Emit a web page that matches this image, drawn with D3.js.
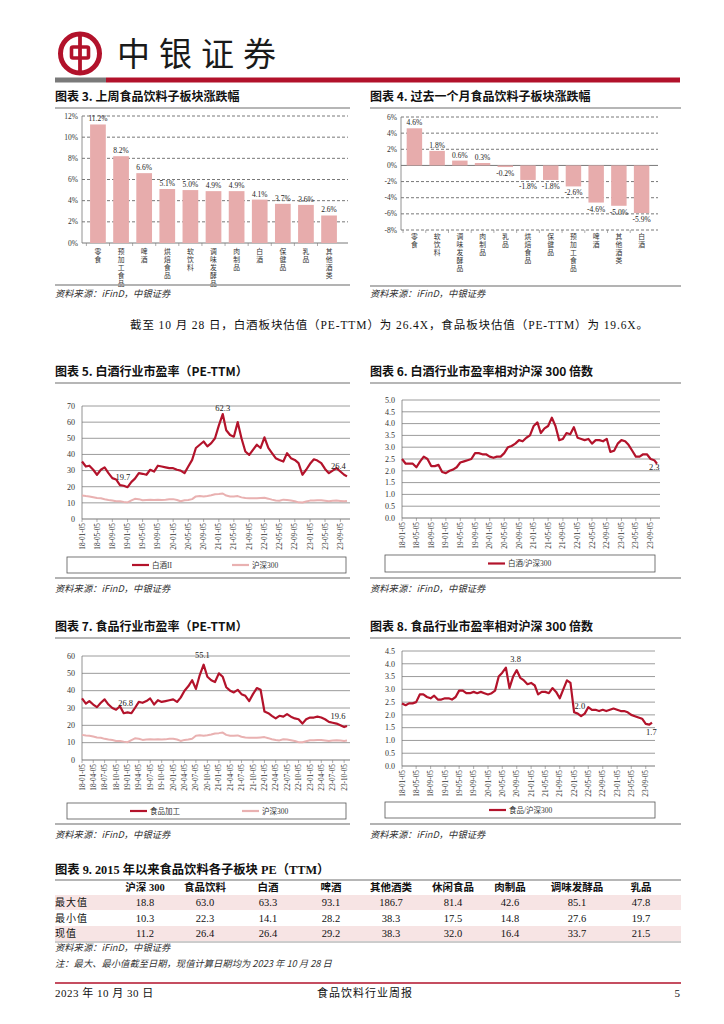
<!DOCTYPE html>
<html>
<head>
<meta charset="utf-8">
<script src="https://cdn.jsdelivr.net/npm/d3@7"></script>
<style>
  body { margin: 0; background: #fff; }
  svg { display: block; }
</style>
</head>
<body>
<svg id="page" width="724" height="1024"></svg>
<script>
/*global d3*/

// ---- data ----
var barCats3 = ["零食", "预加工食品", "啤酒", "烘焙食品", "软饮料", "调味发酵品", "肉制品", "白酒", "保健品", "乳品", "其他酒类"];
var barVals3 = [11.2, 8.2, 6.6, 5.1, 5.0, 4.9, 4.9, 4.1, 3.7, 3.6, 2.6];

var barCats4 = ["零食", "软饮料", "调味发酵品", "肉制品", "乳品", "烘焙食品", "保健品", "预加工食品", "啤酒", "其他酒类", "白酒"];
var barVals4 = [4.6, 1.8, 0.6, 0.3, -0.2, -1.8, -1.8, -2.6, -4.6, -5.0, -5.9];

// monthly readings, 2018-01 .. 2023-10, last point = 2023-10-28
var baijiuPE = [
  35.6, 32.5, 33, 30.5, 27.4, 30.5, 32, 28.4, 25.3, 24.5, 21, 20.6,
  19.7, 23, 25, 28.4, 28, 27.4, 30.5, 29.4, 33, 32.5, 32, 31.5,
  31.5, 30.5, 30, 28.4, 32.5, 36.6, 44, 46, 48, 45, 47, 50,
  58, 65, 55, 52, 51, 60, 50, 41.8, 39.7, 42.8, 46, 44,
  50.6, 44, 41, 37.7, 36.6, 35.6, 40.8, 37.7, 36.6, 34.6, 27.4, 30.5,
  34.2, 37, 36.2, 34.6, 31, 28.4, 30, 31.5, 29.4, 27.4, 26.4
];
var hs300PE = [
  14.5, 14.2, 14, 13.5, 13, 12.8, 12.2, 11.8, 11.5, 11, 11, 10.6,
  10.3, 11.5, 12.5, 12.3, 11.6, 11.8, 12, 11.8, 12, 11.8, 11.9, 12.2,
  12.3, 11.8, 11, 11.6, 11.8, 12.3, 14, 14.3, 14, 14.3, 14.7, 15.3,
  15.5, 15.8, 14.5, 14, 14, 14.2, 13.4, 13, 12.8, 12.8, 12.8, 13,
  13.2, 12.6, 12, 11.5, 11.3, 12, 11.8, 11.4, 11, 10.3, 10.2, 10.8,
  11.4, 11.4, 11.6, 11.6, 11.3, 11, 11.3, 11.4, 11.2, 11, 11.2
];
var baijiuRel = [
  2.5, 2.3, 2.3, 2.3, 2.15, 2.4, 2.6, 2.5, 2.2, 2.2, 2.25, 1.95,
  1.9, 2.0, 2.05, 2.15, 2.35, 2.4, 2.45, 2.5, 2.75, 2.75, 2.7, 2.7,
  2.6, 2.55, 2.6, 2.6, 2.75, 3.0, 3.05, 3.15, 3.3, 3.25, 3.4, 3.5,
  3.9, 4.05, 3.6, 3.8, 3.9, 4.25, 3.9, 3.3, 3.35, 3.6, 3.55, 3.85,
  3.4, 3.35, 3.3, 3.35, 3.15, 3.3, 3.3, 3.25, 3.35, 2.8, 2.85, 3.15,
  3.3, 3.25, 3.1, 2.85, 2.6, 2.6, 2.7, 2.7, 2.5, 2.45, 2.3
];
var foodPE = [
  35.5, 32.5, 34, 32, 30.5, 33, 35, 32, 30, 29, 31, 27,
  27.5, 27, 30, 33.5, 33, 34, 35.5, 32, 34.5, 33.5, 34, 34.5,
  35, 33.5, 36, 40, 42.5, 46, 41, 49, 55, 48, 46, 45,
  50, 48, 42, 40, 39, 40.5, 38, 37, 34, 38, 41.5, 40.5,
  28, 27, 25.5, 24, 25.5, 25, 26.5, 25, 24, 23.5, 21, 23.5,
  24.5, 24.5, 25, 24.5, 23.5, 22, 21.5, 21, 20, 19, 19.6
];
var foodRel = [
  2.45, 2.38, 2.45, 2.45, 2.5, 2.8, 2.8, 2.7, 2.65, 2.75, 2.6, 2.6,
  2.65, 2.65, 2.6, 2.7, 2.95, 2.95, 2.85, 2.85, 2.9, 2.85, 2.9, 2.85,
  2.8, 2.85, 2.95, 3.5, 3.65, 3.85, 3.05, 3.5, 3.75, 3.45, 3.35, 3.2,
  3.25, 3.15, 2.8, 2.9, 2.9, 2.85, 3.05, 2.9, 2.65, 3.0, 3.35, 3.25,
  2.1, 2.05, 1.95, 2.05, 2.3, 2.2, 2.2, 2.15, 2.2, 2.15, 2.2, 2.25,
  2.2, 2.15, 2.15, 2.1, 2.0, 1.95, 1.9, 1.85, 1.65, 1.62, 1.7
];

var ticks4m = ["18-01-05", "18-05-05", "18-09-05", "19-01-05", "19-05-05", "19-09-05",
  "20-01-05", "20-05-05", "20-09-05", "21-01-05", "21-05-05", "21-09-05",
  "22-01-05", "22-05-05", "22-09-05", "23-01-05", "23-05-05", "23-09-05"];
var ticks3m = ["18-01-05", "18-04-05", "18-07-05", "18-10-05", "19-01-05", "19-04-05",
  "19-07-05", "19-10-05", "20-01-05", "20-04-05", "20-07-05", "20-10-05",
  "21-01-05", "21-04-05", "21-07-05", "21-10-05", "22-01-05", "22-04-05",
  "22-07-05", "22-10-05", "23-01-05", "23-04-05", "23-07-05", "23-10-05"];

var tblCols = ["沪深 300", "食品饮料", "白酒", "啤酒", "其他酒类", "休闲食品", "肉制品", "调味发酵品", "乳品"];
var tblRows = ["最大值", "最小值", "现值"];
var tblMax = [18.8, 63.0, 63.3, 93.1, 186.7, 81.4, 42.6, 85.1, 47.8];
var tblMin = [10.3, 22.3, 14.1, 28.2, 38.3, 17.5, 14.8, 27.6, 19.7];
var tblNow = [11.2, 26.4, 26.4, 29.2, 38.3, 32.0, 16.4, 33.7, 21.5];

// ---- helpers ----
var RED = "#b2122b", LINE_RED = "#b3132b", PINK = "#e9b1b1", BAR = "#e7acac";
var SERIF = "'Liberation Serif','Noto Sans CJK SC',serif";
var CJK = "'Noto Sans CJK SC',sans-serif";
var parseTick = d3.timeParse("%y-%m-%d");
var dates = d3.range(70).map(function (i) { return new Date(2018, i, 5); });
dates.push(new Date(2023, 9, 28));

var svg = d3.select("#page");
svg.append("rect").attr("width", 724).attr("height", 1024).attr("fill", "#fff");

function title(x, y, w, txt) {
  svg.append("text").attr("x", x).attr("y", y)
    .attr("font-family", CJK).attr("font-weight", 700).attr("font-size", 12)
    .attr("fill", "#111").text(txt);
  svg.append("line").attr("x1", x).attr("x2", x + w).attr("y1", y + 7).attr("y2", y + 7)
    .attr("stroke", "#6f6f6f").attr("stroke-width", 1.2);
}

function sourceText(x, y, txt) {
  svg.append("text").attr("x", x).attr("y", y)
    .attr("font-family", CJK).attr("font-style", "italic").attr("font-size", 9.3)
    .attr("fill", "#333").text(txt);
}

function source(x, yLine, w, yText) {
  svg.append("line").attr("x1", x).attr("x2", x + w).attr("y1", yLine).attr("y2", yLine)
    .attr("stroke", "#9a9a9a").attr("stroke-width", 1.5);
  sourceText(x, yText, "资料来源：iFinD，中银证券");
}

function vertLabel(g, x, y, txt) {
  var t = g.append("text").attr("font-family", CJK).attr("font-size", 6.8).attr("fill", "#333")
    .attr("text-anchor", "middle");
  txt.split("").forEach(function (ch, i) {
    t.append("tspan").attr("x", x).attr("y", y + i * 8).text(ch);
  });
}

function barChart(cfg) {
  var g = svg.append("g");
  var y = d3.scaleLinear().domain(cfg.domain).range([cfg.y1, cfg.y0]);
  var x = d3.scaleBand().domain(cfg.cats).range([cfg.x0, cfg.x1]).paddingInner(0.32).paddingOuter(cfg.po);
  var tv = d3.range(cfg.domain[0], cfg.domain[1] + 1, 2);
  g.selectAll(".grid").data(tv).enter().append("line")
    .attr("x1", cfg.x0).attr("x2", cfg.x1 + 3)
    .attr("y1", function (d) { return y(d); }).attr("y2", function (d) { return y(d); })
    .attr("stroke", "#555").attr("stroke-width", 0.8)
    .attr("stroke-dasharray", function (d) { return d === 0 ? null : "3,2"; });
  g.selectAll(".tl").data(tv).enter().append("text")
    .attr("x", cfg.x0 - 4).attr("y", function (d) { return y(d); }).attr("dy", "0.35em")
    .attr("text-anchor", "end").attr("font-family", SERIF).attr("font-size", 7.5).attr("fill", "#333")
    .text(function (d) { return d + "%"; });
  g.append("line").attr("x1", cfg.x0).attr("x2", cfg.x0).attr("y1", cfg.y0).attr("y2", cfg.y1)
    .attr("stroke", "#777").attr("stroke-width", 0.8);
  g.selectAll(".bar").data(cfg.vals).enter().append("rect")
    .attr("x", function (d, i) { return x(cfg.cats[i]); })
    .attr("width", x.bandwidth())
    .attr("y", function (d) { return y(Math.max(0, d)); })
    .attr("height", function (d) { return Math.abs(y(d) - y(0)); })
    .attr("fill", BAR);
  g.selectAll(".vl").data(cfg.vals).enter().append("text")
    .attr("x", function (d, i) { return x(cfg.cats[i]) + x.bandwidth() / 2; })
    .attr("y", function (d) { return d >= 0 ? y(d) - 3 : y(d) + 9; })
    .attr("text-anchor", "middle").attr("font-family", SERIF).attr("font-size", 7.5).attr("fill", "#222")
    .text(function (d) { return d.toFixed(1) + "%"; });
  cfg.cats.forEach(function (c) {
    var bx = x(c) - x.step() * 0.16;
    g.append("line").attr("x1", bx).attr("x2", bx).attr("y1", cfg.y1).attr("y2", cfg.y1 + 3)
      .attr("stroke", "#777").attr("stroke-width", 0.6);
    vertLabel(g, x(c) + x.bandwidth() / 2, cfg.labelY, c);
  });
}

function lineChart(cfg) {
  var g = svg.append("g");
  var x = d3.scaleTime().domain([dates[0], dates[dates.length - 1]]).range([cfg.x0, cfg.x1]);
  var y = d3.scaleLinear().domain([0, cfg.yMax]).range([cfg.y1, cfg.y0]);
  var tv = d3.range(0, cfg.yMax + cfg.step / 2, cfg.step);
  g.selectAll(".grid").data(tv).enter().append("line")
    .attr("x1", cfg.x0).attr("x2", cfg.x1 + 3)
    .attr("y1", function (d) { return y(d); }).attr("y2", function (d) { return y(d); })
    .attr("stroke", function (d) { return d === 0 ? "#777" : "#9c9c9c"; }).attr("stroke-width", 1);
  g.selectAll(".tl").data(tv).enter().append("text")
    .attr("x", cfg.x0 - 7).attr("y", function (d) { return y(d); }).attr("dy", "0.35em")
    .attr("text-anchor", "end").attr("font-family", SERIF).attr("font-size", 8).attr("fill", "#333")
    .text(function (d) { return cfg.fmt(d); });
  g.append("line").attr("x1", cfg.x0).attr("x2", cfg.x0).attr("y1", cfg.y0).attr("y2", cfg.y1)
    .attr("stroke", "#777").attr("stroke-width", 0.8);
  cfg.ticks.forEach(function (t) {
    var px = x(parseTick(t));
    g.append("line").attr("x1", px).attr("x2", px).attr("y1", cfg.y1).attr("y2", cfg.y1 + 3)
      .attr("stroke", "#777").attr("stroke-width", 0.6);
    g.append("text").attr("transform", "translate(" + px + "," + (cfg.y1 + 4) + ") rotate(-90)")
      .attr("dy", "0.35em").attr("text-anchor", "end")
      .attr("font-family", SERIF).attr("font-size", 7.3).attr("fill", "#333").text(t);
  });
  cfg.series.forEach(function (s) {
    var line = d3.line()
      .x(function (d, i) { return x(dates[i]); })
      .y(function (d) { return y(d); });
    g.append("path").datum(s.values).attr("d", line)
      .attr("fill", "none").attr("stroke", s.color).attr("stroke-width", s.width)
      .attr("stroke-linejoin", "round");
  });
  cfg.notes.forEach(function (n) {
    g.append("text").attr("x", x(new Date(n.d))).attr("y", y(n.v)).attr("dy", "0.35em")
      .attr("text-anchor", "middle").attr("font-family", SERIF).attr("font-size", 8.5)
      .attr("fill", "#222").text(n.t);
  });
  var lg = cfg.legend;
  g.append("rect").attr("x", lg.x).attr("y", lg.y).attr("width", lg.w).attr("height", lg.h)
    .attr("fill", "#fff").attr("stroke", "#555").attr("stroke-width", 0.8);
  lg.items.forEach(function (it) {
    var cy = lg.y + lg.h / 2;
    g.append("line").attr("x1", it.lx).attr("x2", it.lx + 17).attr("y1", cy).attr("y2", cy)
      .attr("stroke", it.color).attr("stroke-width", 2.2);
    g.append("text").attr("x", it.lx + 20).attr("y", cy).attr("dy", "0.35em")
      .attr("font-family", SERIF).attr("font-size", 7.5).attr("fill", "#333").text(it.label);
  });
}

// ---- header ----
svg.append("circle").attr("cx", 80).attr("cy", 53.5).attr("r", 19.5)
  .attr("fill", "none").attr("stroke", RED).attr("stroke-width", 5);
svg.append("rect").attr("x", 71.5).attr("y", 47).attr("width", 17).attr("height", 11).attr("rx", 1.5)
  .attr("fill", "none").attr("stroke", RED).attr("stroke-width", 3.6);
svg.append("line").attr("x1", 80).attr("x2", 80).attr("y1", 34).attr("y2", 73)
  .attr("stroke", RED).attr("stroke-width", 3.8);
svg.append("text").attr("x", 117).attr("y", 66).attr("font-family", CJK).attr("font-size", 33)
  .attr("letter-spacing", 9).attr("fill", "#1a1a1a").text("中银证券");
svg.append("rect").attr("x", 55).attr("y", 77.5).attr("width", 51).attr("height", 5).attr("fill", "#7a7a7a");
svg.append("rect").attr("x", 106).attr("y", 77.5).attr("width", 574).attr("height", 5).attr("fill", RED);

// ---- bar charts ----
title(55, 101, 295, "图表 3. 上周食品饮料子板块涨跌幅");
barChart({cats: barCats3, vals: barVals3, domain: [0, 12], x0: 82, x1: 345, y0: 116, y1: 243,
  po: 0.35, labelY: 254});
source(55, 285, 295, 297);

title(370, 101, 311, "图表 4. 过去一个月食品饮料子板块涨跌幅");
barChart({cats: barCats4, vals: barVals4, domain: [-8, 6], x0: 401, x1: 655, y0: 117, y1: 230,
  po: 0.25, labelY: 239});
source(370, 286, 311, 297);

svg.append("text").attr("x", 130).attr("y", 329).attr("font-family", SERIF).attr("font-size", 11.5)
  .attr("letter-spacing", 0.9).attr("fill", "#111")
  .text("截至 10 月 28 日，白酒板块估值（PE-TTM）为 26.4X，食品板块估值（PE-TTM）为 19.6X。");

// ---- line charts ----
title(55, 376, 295, "图表 5. 白酒行业市盈率（PE-TTM）");
lineChart({x0: 82, x1: 347, y0: 406, y1: 519, yMax: 70, step: 10,
  fmt: function (d) { return d; }, ticks: ticks4m,
  series: [{values: hs300PE, color: PINK, width: 2}, {values: baijiuPE, color: LINE_RED, width: 2.2}],
  notes: [{d: "2018-11-28", v: 26, t: "19.7"}, {d: "2021-02-05", v: 68.5, t: "62.3"}, {d: "2023-08-20", v: 33, t: "26.4"}],
  legend: {x: 67, y: 557, w: 279, h: 16, items: [
    {lx: 132, color: LINE_RED, label: "白酒II"}, {lx: 232, color: PINK, label: "沪深300"}]}});
source(55, 578, 295, 592);

title(370, 376, 311, "图表 6. 白酒行业市盈率相对沪深 300 倍数");
lineChart({x0: 402, x1: 657, y0: 400, y1: 518, yMax: 5, step: 0.5,
  fmt: function (d) { return d.toFixed(1); }, ticks: ticks4m,
  series: [{values: baijiuRel, color: LINE_RED, width: 2.2}],
  notes: [{d: "2023-10-05", v: 2.15, t: "2.3"}],
  legend: {x: 385, y: 555, w: 270, h: 17, items: [{lx: 488, color: LINE_RED, label: "白酒/沪深300"}]}});
source(370, 578, 311, 592);

title(55, 631, 295, "图表 7. 食品行业市盈率（PE-TTM）");
lineChart({x0: 82, x1: 347, y0: 656, y1: 760, yMax: 60, step: 10,
  fmt: function (d) { return d; }, ticks: ticks3m,
  series: [{values: hs300PE, color: PINK, width: 2}, {values: foodPE, color: LINE_RED, width: 2.2}],
  notes: [{d: "2018-12-20", v: 32.6, t: "26.8"}, {d: "2020-08-26", v: 60.3, t: "55.1"}, {d: "2023-08-17", v: 25.5, t: "19.6"}],
  legend: {x: 67, y: 803, w: 279, h: 16, items: [
    {lx: 130, color: LINE_RED, label: "食品加工"}, {lx: 242, color: PINK, label: "沪深300"}]}});
source(55, 824, 295, 838);

title(370, 631, 311, "图表 8. 食品行业市盈率相对沪深 300 倍数");
lineChart({x0: 402, x1: 652, y0: 651, y1: 766, yMax: 4.5, step: 0.5,
  fmt: function (d) { return d.toFixed(1); }, ticks: ticks4m,
  series: [{values: foodRel, color: LINE_RED, width: 2.2}],
  notes: [{d: "2020-08-26", v: 4.17, t: "3.8"}, {d: "2022-02-23", v: 2.35, t: "2.0"}, {d: "2023-10-23", v: 1.33, t: "1.7"}],
  legend: {x: 385, y: 802, w: 270, h: 16, items: [{lx: 489, color: LINE_RED, label: "食品/沪深300"}]}});
source(370, 824, 311, 838);

// ---- table ----
svg.append("text").attr("x", 55).attr("y", 874).attr("font-family", SERIF).attr("font-weight", 700)
  .attr("font-size", 12.3).attr("fill", "#111").text("图表 9. 2015 年以来食品饮料各子板块 PE（TTM）");
svg.append("line").attr("x1", 55).attr("x2", 681).attr("y1", 880).attr("y2", 880)
  .attr("stroke", "#6f6f6f").attr("stroke-width", 1.2);
var colX = [145, 205, 268, 331, 391, 453, 510, 577, 641];
var rowY = [906, 922, 937];
[0, 2].forEach(function (r) {
  svg.append("rect").attr("x", 55).attr("y", rowY[r] - 11).attr("width", 626).attr("height", 15)
    .attr("fill", "#f7e4e4");
});
svg.selectAll(".th").data(tblCols).enter().append("text")
  .attr("x", function (d, i) { return colX[i]; }).attr("y", 891).attr("text-anchor", "middle")
  .attr("font-family", SERIF).attr("font-weight", 700).attr("font-size", 10.5).attr("fill", "#111")
  .text(function (d) { return d; });
[tblMax, tblMin, tblNow].forEach(function (vals, r) {
  svg.append("text").attr("x", 55).attr("y", rowY[r]).attr("font-family", CJK)
    .attr("font-size", 10).attr("fill", "#111").attr("letter-spacing", 1).text(tblRows[r]);
  svg.selectAll(".r" + r).data(vals).enter().append("text")
    .attr("x", function (d, i) { return colX[i]; }).attr("y", rowY[r]).attr("text-anchor", "middle")
    .attr("font-family", SERIF).attr("font-size", 10.5).attr("fill", "#111")
    .text(function (d) { return d.toFixed(1); });
});
svg.append("line").attr("x1", 55).attr("x2", 681).attr("y1", 942).attr("y2", 942)
  .attr("stroke", "#9a9a9a").attr("stroke-width", 1);
sourceText(55, 951, "资料来源：iFinD，中银证券");
sourceText(55, 967, "注：最大、最小值截至日期，现值计算日期均为 2023 年 10 月 28 日");

// ---- footer ----
svg.append("line").attr("x1", 55).attr("x2", 681).attr("y1", 983).attr("y2", 983)
  .attr("stroke", RED).attr("stroke-width", 1.5);
svg.append("text").attr("x", 55).attr("y", 997).attr("font-family", SERIF).attr("font-size", 11)
  .attr("letter-spacing", 0.5).attr("fill", "#111").text("2023 年 10 月 30 日");
svg.append("text").attr("x", 365).attr("y", 997).attr("text-anchor", "middle").attr("font-family", SERIF)
  .attr("font-size", 11).attr("letter-spacing", 1).attr("fill", "#111").text("食品饮料行业周报");
svg.append("text").attr("x", 680).attr("y", 997).attr("text-anchor", "end").attr("font-family", SERIF)
  .attr("font-size", 11).attr("fill", "#111").text("5");
</script>
</body>
</html>
